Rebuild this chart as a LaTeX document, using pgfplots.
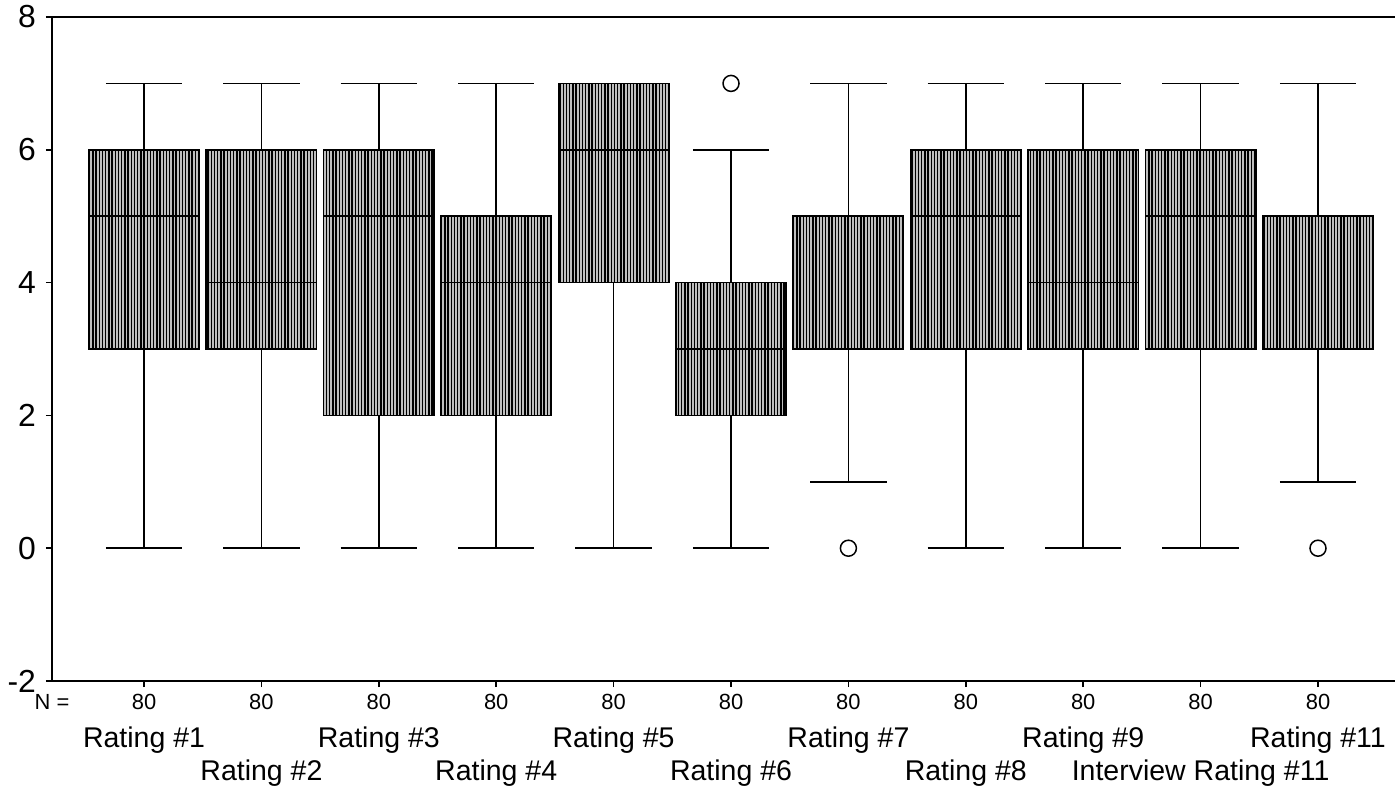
\documentclass[border=0pt]{standalone}
\usepackage{fontspec}
\setmainfont{Liberation Sans}
\usepackage{pgfplots}
\pgfplotsset{compat=1.18}
\usepgfplotslibrary{statistics}
\usetikzlibrary{patterns.meta}
\begin{document}
\begin{tikzpicture}
\useasboundingbox (-26bp,-56bp) rectangle (672.5bp,340.5bp);
\begin{axis}[
  scale only axis, width=671.5bp, height=332bp,
  xmin=0.216, xmax=11.656, ymin=-2, ymax=8,
  axis x line*=bottom, axis y line*=left,
  axis line style={line width=1bp, black},
  ytick={-2,0,2,4,6,8},
  xtick={1,...,11},
  xticklabels={80,80,80,80,80,80,80,80,80,80,80},
  tick align=outside, major tick length=3bp,
  tick style={black, line width=0.8bp},
  /pgf/number format/assume math mode=true,
  yticklabel style={font=\fontsize{16}{16}\selectfont, xshift=-1.5bp},
  xticklabel style={font=\fontsize{11}{12}\selectfont},
  clip=false,
  boxplot/draw direction=y,
  boxplot/box extend=0.94,
  boxplot/whisker extend=0.65,
  boxplot/every box/.style={draw=black, line width=0.8bp, fill=gray!50,
     postaction={pattern={Lines[angle=90,distance=1.6bp,line width=0.7bp]}}},
  boxplot/every whisker/.style={black, line width=0.8bp},
  boxplot/every median/.style={black, line width=0.8bp},
  every axis plot/.append style={black, line width=0.8bp},
]
\addplot[boxplot prepared={draw position=1, lower whisker=0, lower quartile=3, median=5, upper quartile=6, upper whisker=7}] coordinates {};
\addplot[boxplot prepared={draw position=2, lower whisker=0, lower quartile=3, median=4, upper quartile=6, upper whisker=7}] coordinates {};
\addplot[boxplot prepared={draw position=3, lower whisker=0, lower quartile=2, median=5, upper quartile=6, upper whisker=7}] coordinates {};
\addplot[boxplot prepared={draw position=4, lower whisker=0, lower quartile=2, median=4, upper quartile=5, upper whisker=7}] coordinates {};
\addplot[boxplot prepared={draw position=5, lower whisker=0, lower quartile=4, median=6, upper quartile=7, upper whisker=7}] coordinates {};
\addplot[boxplot prepared={draw position=6, lower whisker=0, lower quartile=2, median=3, upper quartile=4, upper whisker=6}, mark=o, mark size=4bp, mark options={fill=white, line width=0.75bp}] coordinates {(0,7)};
\addplot[boxplot prepared={draw position=7, lower whisker=1, lower quartile=3, median=3, upper quartile=5, upper whisker=7}, mark=o, mark size=4bp, mark options={fill=white, line width=0.75bp}] coordinates {(0,0)};
\addplot[boxplot prepared={draw position=8, lower whisker=0, lower quartile=3, median=5, upper quartile=6, upper whisker=7}] coordinates {};
\addplot[boxplot prepared={draw position=9, lower whisker=0, lower quartile=3, median=4, upper quartile=6, upper whisker=7}] coordinates {};
\addplot[boxplot prepared={draw position=10, lower whisker=0, lower quartile=3, median=5, upper quartile=6, upper whisker=7}] coordinates {};
\addplot[boxplot prepared={draw position=11, lower whisker=1, lower quartile=3, median=3, upper quartile=5, upper whisker=7}, mark=o, mark size=4bp, mark options={fill=white, line width=0.75bp}] coordinates {(0,0)};
\draw[line width=1bp] (rel axis cs:0,1) -- (rel axis cs:1,1);
\node[font=\fontsize{11}{12}\selectfont, anchor=base] at ([yshift=-14bp]rel axis cs:0,0) {N =};
\node[font=\fontsize{14.3}{16}\selectfont, anchor=base] at ([yshift=-33bp]axis cs:1,-2) {Rating \#1};
\node[font=\fontsize{14.3}{16}\selectfont, anchor=base] at ([yshift=-33bp]axis cs:3,-2) {Rating \#3};
\node[font=\fontsize{14.3}{16}\selectfont, anchor=base] at ([yshift=-33bp]axis cs:5,-2) {Rating \#5};
\node[font=\fontsize{14.3}{16}\selectfont, anchor=base] at ([yshift=-33bp]axis cs:7,-2) {Rating \#7};
\node[font=\fontsize{14.3}{16}\selectfont, anchor=base] at ([yshift=-33bp]axis cs:9,-2) {Rating \#9};
\node[font=\fontsize{14.3}{16}\selectfont, anchor=base] at ([yshift=-33bp]axis cs:11,-2) {Rating \#11};
\node[font=\fontsize{14.3}{16}\selectfont, anchor=base] at ([yshift=-49.5bp]axis cs:2,-2) {Rating \#2};
\node[font=\fontsize{14.3}{16}\selectfont, anchor=base] at ([yshift=-49.5bp]axis cs:4,-2) {Rating \#4};
\node[font=\fontsize{14.3}{16}\selectfont, anchor=base] at ([yshift=-49.5bp]axis cs:6,-2) {Rating \#6};
\node[font=\fontsize{14.3}{16}\selectfont, anchor=base] at ([yshift=-49.5bp]axis cs:8,-2) {Rating \#8};
\node[font=\fontsize{14.3}{16}\selectfont, anchor=base] at ([yshift=-49.5bp]axis cs:10,-2) {Interview Rating \#11};
\end{axis}
\end{tikzpicture}
\end{document}
